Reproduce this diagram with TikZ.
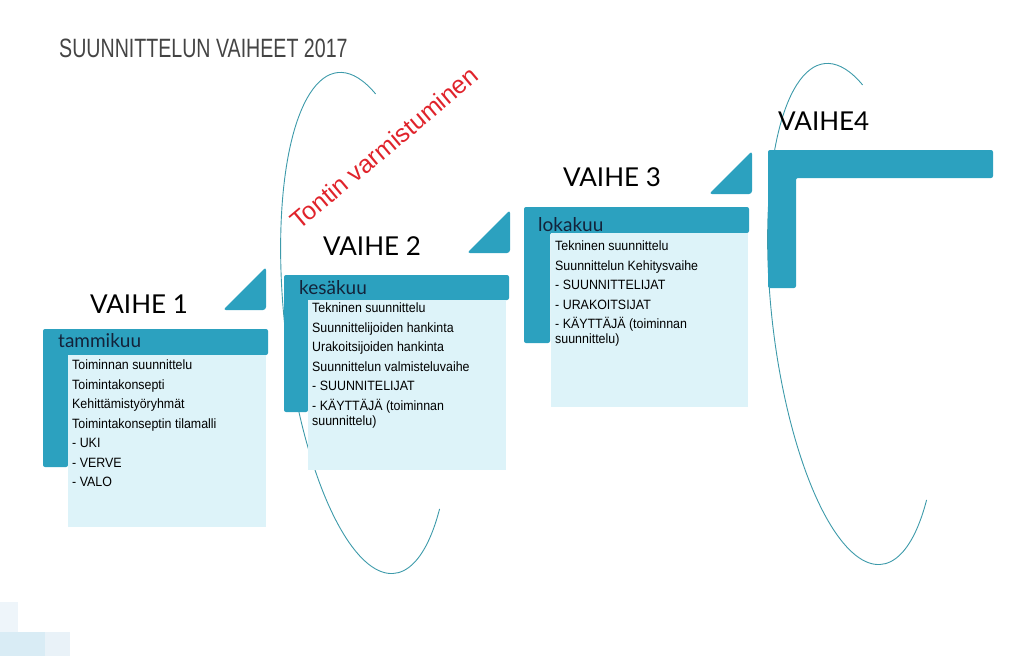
\documentclass[tikz,border=0pt]{standalone}
\usepackage{fontspec}
\setmainfont{Liberation Sans}
\newfontfamily\titlefont[FakeStretch=0.74]{Liberation Sans}
\newfontfamily\itemfont[FakeStretch=0.92]{Liberation Sans}
\newfontfamily\vaihefont{Lato}
\definecolor{barC}{HTML}{2CA1BF}
\definecolor{boxC}{HTML}{DDF3F9}
\definecolor{arcC}{HTML}{3D9AAA}
\definecolor{monthC}{HTML}{13233A}
\definecolor{titleC}{HTML}{444444}
\definecolor{redC}{HTML}{E0232B}
\definecolor{fadeA}{HTML}{EEF5FA}
\definecolor{fadeB}{HTML}{D9ECF5}
\definecolor{fadeC}{HTML}{E9F2F8}
\tikzset{
  vaihe/.style={font=\vaihefont\fontsize{26}{30}\selectfont,text=black,inner sep=0pt,anchor=base},
  month/.style={font=\vaihefont\fontsize{19}{22}\selectfont,text=monthC,inner sep=0pt,anchor=base west},
  items/.style={font=\itemfont\fontsize{13.5}{15}\selectfont,text=black,align=left,inner sep=0pt,anchor=north west},
  infobox/.style={fill=boxC,inner sep=0pt,anchor=north west},
  bar/.style={fill=barC,rounded corners=2pt},
  corner/.style={fill=barC,rounded corners=3pt},
  arcline/.style={draw=arcC,line width=0.9pt}}

\begin{document}
\begin{tikzpicture}[x=1pt,y=-1pt]
\useasboundingbox (0,0) rectangle (1024,656);
% faint squares, bottom left
\fill[fadeA] (0,602) rectangle (18,632);
\fill[fadeB] (0,632) rectangle (45,656);
\fill[fadeC] (45,632) rectangle (70,656);
% arcs
\begin{scope}[shift={(366,323)},rotate=6.5]
\draw[arcline] (-64:81 and 252) arc[start angle=-64,end angle=-310,x radius=81,y radius=252];
\end{scope}
\begin{scope}[shift={(853,314)},rotate=6.5]
\draw[arcline] (-64:81 and 252) arc[start angle=-64,end angle=-310,x radius=81,y radius=252];
\end{scope}
\node[font=\titlefont\fontsize{26.5}{30}\selectfont,text=titleC,inner sep=0pt,anchor=base west] (title) at (59,57) {SUUNNITTELUN VAIHEET 2017};
\node[font=\fontsize{25}{28}\selectfont,text=redC,rotate=40,inner sep=0pt] (tontti) at (384,148) {Tontin varmistuminen};
% vaihe 1
\fill[bar] (43,329) -- (268,329) -- (268,355) -- (68,355) -- (68,467) -- (43,467) -- cycle;
\node[infobox,minimum width=198,minimum height=172] (box1) at (68,355) {};
\fill[corner] (223,310) -- (266,267) -- (266,310) -- cycle;
\node[vaihe] (v1) at (139,313) {VAIHE 1};
\node[month] (m1) at (58,347) {tammikuu};
\node[items] (list1) at (72,360) {Toiminnan suunnittelu\\[4.5pt]Toimintakonsepti\\[4.5pt]Kehittämistyöryhmät\\[4.5pt]Toimintakonseptin tilamalli\\[4.5pt]- UKI\\[4.5pt]- VERVE\\[4.5pt]- VALO};
% vaihe 2
\fill[bar] (284,275) -- (509,275) -- (509,300) -- (308,300) -- (308,412) -- (284,412) -- cycle;
\node[infobox,minimum width=198,minimum height=170] (box2) at (308,300) {};
\fill[corner] (467,253) -- (510,210) -- (510,253) -- cycle;
\node[vaihe] (v2) at (372,255) {VAIHE 2};
\node[month] (m2) at (299,294) {kesäkuu};
\node[items] (list2) at (312,303) {Tekninen suunnittelu\\[4.5pt]Suunnittelijoiden hankinta\\[4.5pt]Urakoitsijoiden hankinta\\[4.5pt]Suunnittelun valmisteluvaihe\\[4.5pt]- SUUNNITELIJAT\\[4.5pt]- KÄYTTÄJÄ (toiminnan\\suunnittelu)};
% vaihe 3
\fill[bar] (524,207) -- (749,207) -- (749,233) -- (550,233) -- (550,343) -- (524,343) -- cycle;
\node[infobox,minimum width=197,minimum height=174] (box3) at (551,233) {};
\fill[corner] (709,194) -- (752,151) -- (752,194) -- cycle;
\node[vaihe] (v3) at (612,186) {VAIHE 3};
\node[month] (m3) at (538,231) {lokakuu};
\node[items] (list3) at (555,241) {Tekninen suunnittelu\\[4.5pt]Suunnittelun Kehitysvaihe\\[4.5pt]- SUUNNITTELIJAT\\[4.5pt]- URAKOITSIJAT\\[4.5pt]- KÄYTTÄJÄ (toiminnan\\suunnittelu)};
% vaihe 4
\fill[bar] (768,150) -- (993,150) -- (993,178) -- (796,178) -- (796,288) -- (768,288) -- cycle;
\node[vaihe,anchor=base west] (v4) at (778,130) {VAIHE4};
\end{tikzpicture}
\end{document}
